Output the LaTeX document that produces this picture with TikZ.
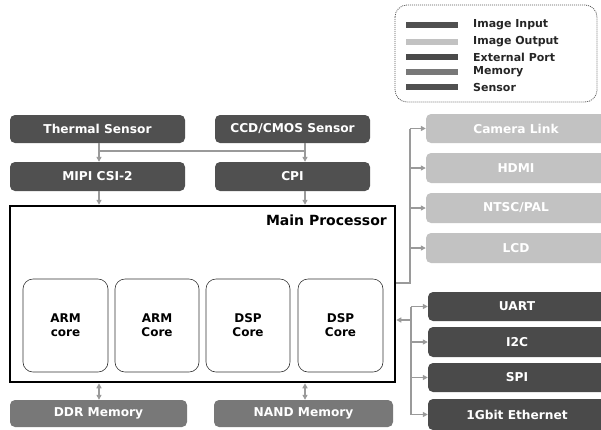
\documentclass[tikz,border=0pt]{standalone}
\usepackage{fontspec}
\setmainfont{DejaVu Sans}
\usetikzlibrary{arrows.meta,calc}
\definecolor{darkbox}{HTML}{505050}
\definecolor{portbox}{HTML}{4A4A4A}
\definecolor{outbox}{HTML}{C2C2C2}
\definecolor{membox}{HTML}{787878}
\definecolor{wire}{HTML}{9A9A9A}
\tikzset{
  boxfont/.style={font=\fontsize{12.2}{13}\selectfont\bfseries},
  blk/.style={rounded corners=5pt},
  sensorbox/.style={blk, fill=darkbox},
  inbox/.style={blk, fill=darkbox},
  imgout/.style={blk, fill=outbox},
  extport/.style={blk, fill=portbox},
  memblk/.style={blk, fill=membox},
  lbl/.style={boxfont, text=white, inner sep=0pt},
  corebox/.style={draw=black!80, line width=0.6pt, rounded corners=10pt,
    align=center, font=\fontsize{12}{14}\selectfont\bfseries},
  wireline/.style={draw=wire, line width=1.3pt},
  tip/.style={-{Triangle[length=5pt,width=5pt]}},
  bitip/.style={{Triangle[length=5pt,width=5pt]}-{Triangle[length=5pt,width=5pt]}},
  legtext/.style={anchor=west, inner sep=0pt, font=\fontsize{11}{12}\selectfont\bfseries, text=black!85}
}
\begin{document}
\begin{tikzpicture}[x=1pt,y=-1pt]
\useasboundingbox (0,0) rectangle (601,429);

% legend
\draw[draw=black!65, line width=0.8pt, dash pattern=on 1pt off 1pt, rounded corners=12pt]
  (395,5) rectangle (597,102);
\fill[darkbox] (406,22) rectangle (458,28);
\fill[outbox]  (406,39) rectangle (458,45);
\fill[portbox] (406,54) rectangle (458,60);
\fill[membox]  (406,69) rectangle (458,75);
\fill[darkbox] (406,84) rectangle (458,90);
\node[legtext] (lg1) at (473,25) {Image Input};
\node[legtext] (lg2) at (473,42) {Image Output};
\node[legtext] (lg3) at (473,57) {External Port};
\node[legtext] (lg4) at (473,72) {Memory};
\node[legtext] (lg5) at (473,87) {Sensor};

% sensors and image inputs
\path[sensorbox] (10,115) rectangle (185,143);
\node[lbl, minimum width=175pt, minimum height=28pt] (thermal) at (97.5,129) {Thermal Sensor};
\path[sensorbox] (215,115) rectangle (370,143);
\node[lbl, minimum width=155pt, minimum height=28pt] (ccd) at (292.5,129) {CCD/CMOS Sensor};
\path[inbox] (10,162) rectangle (185,191);
\node[lbl, minimum width=175pt, minimum height=29pt] (mipi) at (97.5,176.5) {MIPI CSI-2};
\path[inbox] (215,162) rectangle (370,191);
\node[lbl, minimum width=155pt, minimum height=29pt] (cpi) at (292.5,176.5) {CPI};

% main processor
\node[draw=black, line width=2.5pt, minimum width=385pt, minimum height=176pt, inner sep=0pt] (main) at (202.5,294) {};
\node[anchor=east, inner sep=0pt, font=\fontsize{14}{15}\selectfont\bfseries] (mainlbl) at (387,220) {Main Processor};
\node[corebox, minimum width=85pt, minimum height=93pt] (c1) at (65.5,325.5) {ARM\\core};
\node[corebox, minimum width=84pt, minimum height=93pt] (c2) at (157,325.5) {ARM\\Core};
\node[corebox, minimum width=84pt, minimum height=93pt] (c3) at (248,325.5) {DSP\\Core};
\node[corebox, minimum width=85pt, minimum height=93pt] (c4) at (340.5,325.5) {DSP\\Core};

% memories
\path[memblk] (10,400) rectangle (187,427);
\node[lbl, minimum width=177pt, minimum height=27pt] (ddr) at (98.5,413.5) {DDR Memory};
\path[memblk] (214,400) rectangle (393,427);
\node[lbl, minimum width=179pt, minimum height=27pt] (nand) at (303.5,413.5) {NAND Memory};

% image outputs
\path[imgout] (426,114) rectangle (606,143);
\node[lbl, minimum width=180pt, minimum height=29pt] (cam) at (516,128.5) {Camera Link};
\path[imgout] (426,153) rectangle (606,183);
\node[lbl, minimum width=180pt, minimum height=30pt] (hdmi) at (516,168) {HDMI};
\path[imgout] (426,193) rectangle (606,223);
\node[lbl, minimum width=180pt, minimum height=30pt] (ntsc) at (516,208) {NTSC/PAL};
\path[imgout] (426,233) rectangle (606,263);
\node[lbl, minimum width=180pt, minimum height=30pt] (lcd) at (516,248) {LCD};

% external ports
\path[extport] (428,292) rectangle (606,321);
\node[lbl, minimum width=178pt, minimum height=29pt] (uart) at (517,306.5) {UART};
\path[extport] (428,327) rectangle (606,357);
\node[lbl, minimum width=178pt, minimum height=30pt] (iic) at (517,342) {I2C};
\path[extport] (428,363) rectangle (606,392);
\node[lbl, minimum width=178pt, minimum height=29pt] (spi) at (517,377.5) {SPI};
\path[extport] (428,399) rectangle (606,430);
\node[lbl, minimum width=178pt, minimum height=31pt] (eth) at (517,414.5) {1Gbit Ethernet};

% sensor links
\coordinate (tx) at ([xshift=1.5pt]thermal.south);
\coordinate (cx) at ([xshift=12.5pt]ccd.south);
\draw[wireline, tip] (tx) -- (tx |- mipi.north);
\draw[wireline, tip] (cx) -- (cx |- cpi.north);
\draw[wireline] ($(tx)!0.42!(tx |- mipi.north)$) -- ($(cx)!0.42!(cx |- cpi.north)$);
\draw[wireline, tip] (tx |- mipi.south) -- (tx |- main.north);
\draw[wireline, tip] (cx |- cpi.south) -- (cx |- main.north);

% memory links
\draw[wireline, bitip] (tx |- main.south) -- (tx |- ddr.north);
\draw[wireline, bitip] (cx |- main.south) -- (cx |- nand.north);

% image output bus
\coordinate (obus) at (410,283);
\draw[wireline] (main.east |- obus) -- (obus) -- (obus |- cam.west);
\foreach \n in {cam,hdmi,ntsc,lcd}
  \draw[wireline, tip] (obus |- \n.west) -- (\n.west);

% external port bus
\coordinate (pbus) at (411,320);
\draw[wireline, tip] (pbus) -- (main.east |- pbus);
\draw[wireline] (pbus |- uart.west) -- (pbus |- eth.west);
\foreach \n in {uart,iic,spi,eth}
  \draw[wireline, tip] (pbus |- \n.west) -- (\n.west);
\end{tikzpicture}
\end{document}
